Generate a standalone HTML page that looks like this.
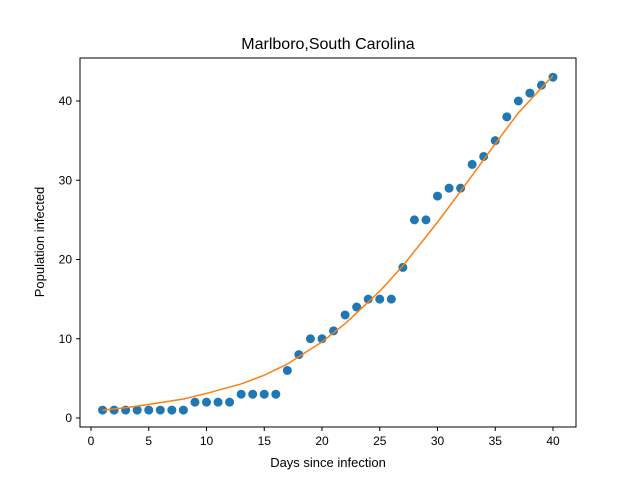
<!DOCTYPE html>
<html><head><meta charset="utf-8"><style>
body{margin:0;background:#fff;}
svg text{font-family:"Liberation Sans","DejaVu Sans",sans-serif;}
</style></head><body>
<svg id="chart" width="640" height="480" xmlns="http://www.w3.org/2000/svg">
<rect width="640" height="480" fill="#fff"/>
<text x="328" y="49" font-size="16" text-anchor="middle">Marlboro,South Carolina</text>
<g id="plot"></g>
<rect x="80" y="58" width="496" height="369" fill="none" stroke="#000" stroke-width="1"/>
<text x="328" y="467" font-size="13" text-anchor="middle">Days since infection</text>
<text transform="translate(44,242) rotate(-90)" font-size="13" text-anchor="middle">Population infected</text>
</svg>
<script>
const days = [1,2,3,4,5,6,7,8,9,10,11,12,13,14,15,16,17,18,19,20,21,22,23,24,25,26,27,28,29,30,31,32,33,34,35,36,37,38,39,40];
const infected = [1,1,1,1,1,1,1,1,2,2,2,2,3,3,3,3,6,8,10,10,11,13,14,15,15,15,19,25,25,28,29,29,32,33,35,38,40,41,42,43];
const fitDays = [1,3,5,8,10,13,15,17,20,22,25,27,30,32,35,37,40];
const fitValues = [1.0,1.3,1.7,2.4,3.1,4.3,5.4,6.8,9.6,11.9,16,19.2,24.7,28.6,34.6,38.5,43.2];
const xTicks = [0,5,10,15,20,25,30,35,40];
const yTicks = [0,10,20,30,40];
const xs = v => 91 + v * 11.55;
const ys = v => 418 - v * 7.925;
const NS = "http://www.w3.org/2000/svg";
const g = document.getElementById('plot');
function mk(t, a){const e=document.createElementNS(NS,t);for(const k in a)e.setAttribute(k,a[k]);g.appendChild(e);return e;}
xTicks.forEach(t=>{
  const l=mk('line',{x1:xs(t),x2:xs(t),y1:427,y2:431,stroke:'#000'});
  
  
  const tx=mk('text',{x:xs(t),y:445,'font-size':12,'text-anchor':'middle'});tx.textContent=t;
  
  
});
yTicks.forEach(t=>{
  const l=mk('line',{x1:76,x2:80,y1:ys(t),y2:ys(t),stroke:'#000'});
  
  
  const tx=mk('text',{x:72,y:ys(t)+4,'font-size':12,'text-anchor':'end'});tx.textContent=t;
  
  
});
days.forEach((d,i)=>{
  const c=mk('circle',{cx:xs(d),cy:ys(infected[i]),r:4.5,fill:'#1f77b4'});
  
  
});
const p=mk('polyline',{points:fitDays.map((d,i)=>xs(d)+','+ys(fitValues[i])).join(' '),fill:'none',stroke:'#ff7f0e','stroke-width':1.5});


</script>
</body></html>
